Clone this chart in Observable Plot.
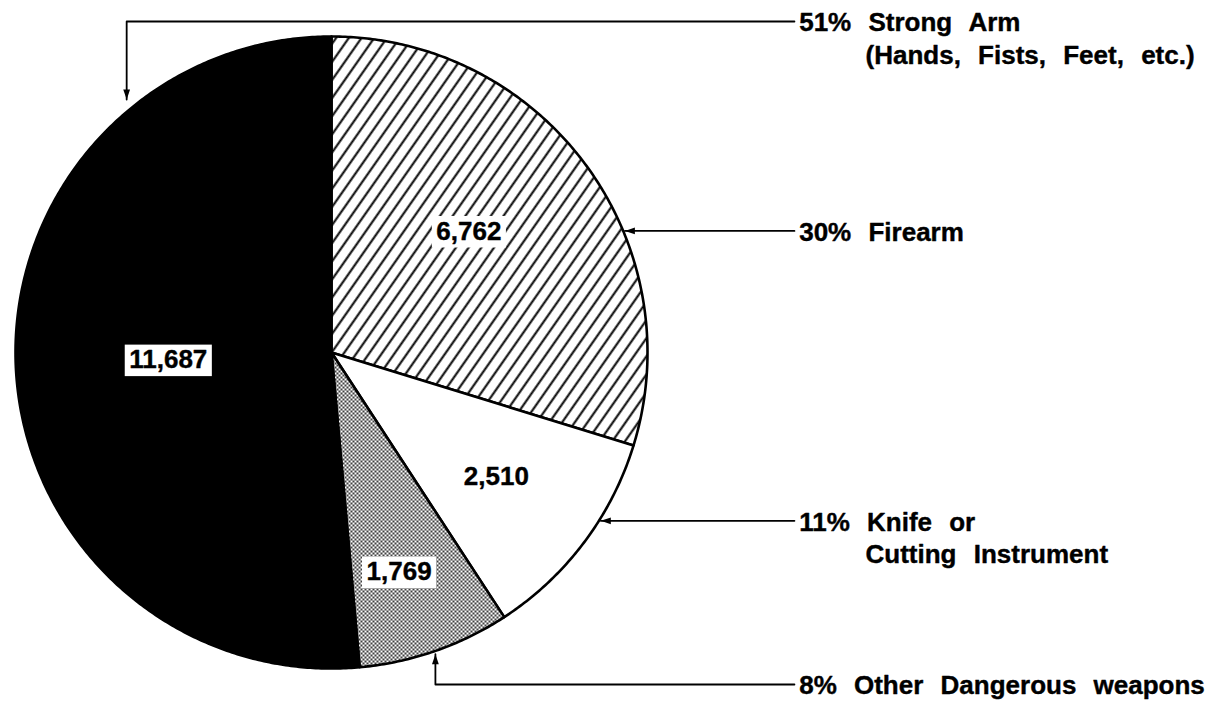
<!DOCTYPE html>
<html>
<head>
<meta charset="utf-8">
<script src="https://cdn.jsdelivr.net/npm/d3@7"></script>
<script src="https://cdn.jsdelivr.net/npm/@observablehq/plot@0.6"></script>
<style>
  html, body { margin: 0; padding: 0; background: #fff; }
</style>
</head>
<body>
<div id="chart"></div>
<script>
// ---- data ----
const categories = ["Firearm", "Knife or Cutting Instrument", "Other Dangerous weapons", "Strong Arm"];
const counts = [6762, 2510, 1769, 11687];
const labelLines = [
  ["Firearm"],
  ["Knife or", "Cutting Instrument"],
  ["Other Dangerous weapons"],
  ["Strong Arm", "(Hands, Fists, Feet, etc.)"]
];

// ---- styles ----
const fills = ["url(#hatch)", "white", "url(#stipple)", "black"];
const FONT = "'Liberation Sans', Arial, Helvetica, sans-serif";

// ---- layout (unit-circle space: pie centre 0,0 radius 1) ----
const valueLabelRadius = [0.58, 0.653, 0.726, 0.517];
const valueLabelShift = [-5, 0, 2, 0];          // degrees
const calloutAngle = [67.5, 122, 161, 321];      // degrees clockwise from top
const calloutTipR = [1.005, 1.005, 1.01, 1.03];
const calloutLevel = [null, null, -1.0506, 1.0475];
const labelX = 1.48, indentX = 1.69, lineEndX = 1.465, lineGap = 0.103, baselineDrop = 0.0316;

// ---- derived geometry ----
const total = d3.sum(counts);
const arcs = d3.pie().sort(null).value(d => d)(counts);

const slices = [];
arcs.forEach((a, i) => {
  const n = Math.max(2, Math.ceil((a.endAngle - a.startAngle) / (Math.PI / 360)));
  slices.push({key: categories[i], x: 0, y: 0});
  for (let k = 0; k <= n; k++) {
    const t = a.startAngle + (a.endAngle - a.startAngle) * k / n;
    slices.push({key: categories[i], x: Math.sin(t), y: Math.cos(t)});
  }
});

const valueLabels = arcs.map((a, i) => {
  const m = (a.startAngle + a.endAngle) / 2 + valueLabelShift[i] * Math.PI / 180;
  return {text: d3.format(",")(counts[i]), x: valueLabelRadius[i] * Math.sin(m), y: valueLabelRadius[i] * Math.cos(m)};
});

const leaders = [], tips = [], texts = [];
categories.forEach((c, i) => {
  const a = calloutAngle[i] * Math.PI / 180, r = calloutTipR[i];
  const tx = r * Math.sin(a), ty = r * Math.cos(a);
  const bent = calloutLevel[i] != null;
  const level = bent ? calloutLevel[i] : ty;
  leaders.push({key: c, x: tx, y: ty});
  if (bent) leaders.push({key: c, x: tx, y: level});
  leaders.push({key: c, x: lineEndX, y: level});
  const rot = !bent ? -90 : (level > ty ? 180 : 0);
  tips.push({x: tx, y: ty, rotate: rot});
  const pct = Math.round(counts[i] / total * 100) + "%";
  texts.push({x: labelX, y: level - baselineDrop, text: pct + " " + labelLines[i][0]});
  labelLines[i].slice(1).forEach((l, j) =>
    texts.push({x: indentX, y: level - baselineDrop - lineGap * (j + 1), text: l}));
});

const arrowHead = {
  draw(ctx, size) {
    const r = Math.sqrt(size / Math.PI);
    const L = 2.5 * r, W = 0.85 * r;
    ctx.moveTo(0, 0); ctx.lineTo(W, L); ctx.lineTo(-W, L); ctx.closePath();
  }
};

const chart = Plot.plot({
  width: 1215,
  height: 701,
  margin: 0,
  x: {domain: [-1, 1], range: [15, 647], axis: null},
  y: {domain: [-1, 1], range: [668, 36], axis: null},
  color: {type: "ordinal", domain: categories, range: fills},
  style: {fontFamily: FONT, background: "white", wordSpacing: "10px"},
  marks: [
    Plot.line(slices, {x: "x", y: "y", z: "key", fill: "key", stroke: "black", strokeWidth: 2.6,
      strokeLinejoin: "round", curve: "linear-closed"}),
    Plot.text(valueLabels, {x: "x", y: "y", text: "text", fontSize: 26, fontWeight: "bold", fill: "black",
      stroke: "black", strokeWidth: 0.4}),
    Plot.line(leaders, {x: "x", y: "y", z: "key", stroke: "black", strokeWidth: 1.8}),
    Plot.dot(tips, {x: "x", y: "y", rotate: "rotate", symbol: arrowHead, r: 4, fill: "black", stroke: "none"}),
    Plot.text(texts, {x: "x", y: "y", text: "text", textAnchor: "start", lineAnchor: "bottom",
      fontSize: 26, fontWeight: "bold", fill: "black", stroke: "black", strokeWidth: 0.4})
  ]
});

document.getElementById("chart").appendChild(chart);

// pattern definitions
const svg = d3.select(chart.tagName.toLowerCase() === "svg" ? chart : chart.querySelector("svg"));
const defs = svg.insert("defs", ":first-child");
const hatch = defs.append("pattern").attr("id", "hatch").attr("patternUnits", "userSpaceOnUse")
  .attr("width", 10.4).attr("height", 10.4).attr("patternTransform", "rotate(35)");
hatch.append("rect").attr("width", 10.4).attr("height", 10.4).attr("fill", "white");
hatch.append("line").attr("x1", 5.2).attr("y1", -1).attr("x2", 5.2).attr("y2", 11.4)
  .attr("stroke", "black").attr("stroke-width", 2);
const stip = defs.append("pattern").attr("id", "stipple").attr("patternUnits", "userSpaceOnUse")
  .attr("width", 4).attr("height", 4);
stip.append("rect").attr("width", 4).attr("height", 4).attr("fill", "white");
stip.append("circle").attr("cx", 1).attr("cy", 1).attr("r", 1.0).attr("fill", "black");
stip.append("circle").attr("cx", 3).attr("cy", 3).attr("r", 1.0).attr("fill", "black");

// white boxes behind the value labels
const valueGroup = svg.node().querySelectorAll('g[aria-label="text"]')[0];
if (valueGroup) {
  valueGroup.querySelectorAll("text").forEach(t => {
    const bb = t.getBBox();
    const rect = document.createElementNS("http://www.w3.org/2000/svg", "rect");
    rect.setAttribute("x", bb.x - 4.5);
    rect.setAttribute("y", bb.y + 0.5);
    rect.setAttribute("width", bb.width + 9);
    rect.setAttribute("height", bb.height + 1.5);
    rect.setAttribute("fill", "white");
    rect.setAttribute("stroke", "none");
    const tr = t.getAttribute("transform");
    if (tr) rect.setAttribute("transform", tr);
    t.parentNode.insertBefore(rect, t);
  });
}
</script>
</body>
</html>
